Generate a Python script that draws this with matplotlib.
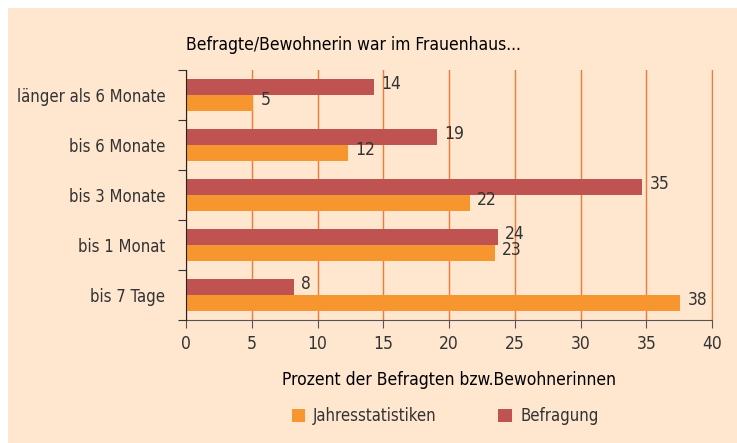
import numpy as np
import matplotlib.pyplot as plt
from matplotlib.patches import Rectangle

plt.rcParams['font.family'] = ['DejaVu Sans']
plt.rcParams['font.stretch'] = 'condensed'

categories = ['bis 7 Tage', 'bis 1 Monat', 'bis 3 Monate', 'bis 6 Monate', 'länger als 6 Monate']
jahresstatistiken = [37.6, 23.5, 21.6, 12.3, 5.1]
befragung = [8.2, 23.7, 34.7, 19.1, 14.3]
jahres_labels = ['38', '23', '22', '12', '5']
befragung_labels = ['8', '24', '35', '19', '14']
xticks = [0, 5, 10, 15, 20, 25, 30, 35, 40]

bg = '#FEE6CF'
c_jahres = '#F7962E'
c_befr = '#BE5352'
grid_c = '#F07A3A'
text_c = '#333333'

fig = plt.figure(figsize=(7.37, 4.43), dpi=100)
fig.patch.set_facecolor('white')
fig.patches.append(Rectangle((8 / 737, 0), 1, 1 - 8 / 443, transform=fig.transFigure,
                             facecolor=bg, edgecolor='none', zorder=-10))

ax = fig.add_axes([186 / 737, 1 - 320 / 443, (712 - 186) / 737, (320 - 70) / 443])
ax.set_facecolor(bg)

y = np.arange(len(categories))
h = 0.32
ax.barh(y - h / 2, jahresstatistiken, height=h, color=c_jahres, label='Jahresstatistiken', zorder=3)
ax.barh(y + h / 2, befragung, height=h, color=c_befr, label='Befragung', zorder=3)

# Wertebeschriftung rechts neben den Balken
for i in range(len(categories)):
    ax.text(jahresstatistiken[i] + 0.55, y[i] - h / 2 + 0.06, jahres_labels[i], va='center', ha='left',
            fontsize=12.5, color=text_c, zorder=4)
    ax.text(befragung[i] + 0.55, y[i] + h / 2 + 0.06, befragung_labels[i], va='center', ha='left',
            fontsize=12.5, color=text_c, zorder=4)

ax.set_xlim(0, 40)
ax.set_ylim(-0.5, len(categories) - 0.5)
ax.set_xticks(xticks)
ax.set_xticklabels([str(t) for t in xticks], fontsize=12.5, color=text_c)
ax.set_yticks(np.arange(-0.5, len(categories), 1), minor=False)
ax.set_yticklabels([])
ax.set_yticks(y, minor=True)
ax.set_yticklabels(categories, minor=True, fontsize=12, color=text_c)
ax.tick_params(axis='y', which='minor', length=0, pad=15)
ax.tick_params(axis='y', which='major', length=6, direction='out', color='#333333')
ax.tick_params(axis='x', length=6, direction='out', color='#555555', pad=5)

ax.xaxis.grid(True, color=grid_c, linewidth=1, zorder=0)
ax.spines['top'].set_visible(False)
ax.spines['right'].set_color(grid_c)
ax.spines['left'].set_color('#222222')
ax.spines['bottom'].set_color('#555555')
ax.spines['left'].set_zorder(5)

ax.set_xlabel('Prozent der Befragten bzw.Bewohnerinnen', fontsize=12.5, color='black', labelpad=13)
fig.text(186 / 737, 1 - 45 / 443, 'Befragte/Bewohnerin war im Frauenhaus...', fontsize=12.5,
         color='black', va='center', ha='left')

handles, labels = ax.get_legend_handles_labels()
fig.legend(handles, labels, loc='center', bbox_to_anchor=(445 / 737, 1 - 416 / 443), ncol=2,
           frameon=False, fontsize=12, handlelength=0.8, handleheight=0.8, handletextpad=0.5,
           columnspacing=3.7, labelcolor=text_c)

fig.savefig('out.png', dpi=100, facecolor=fig.get_facecolor())
